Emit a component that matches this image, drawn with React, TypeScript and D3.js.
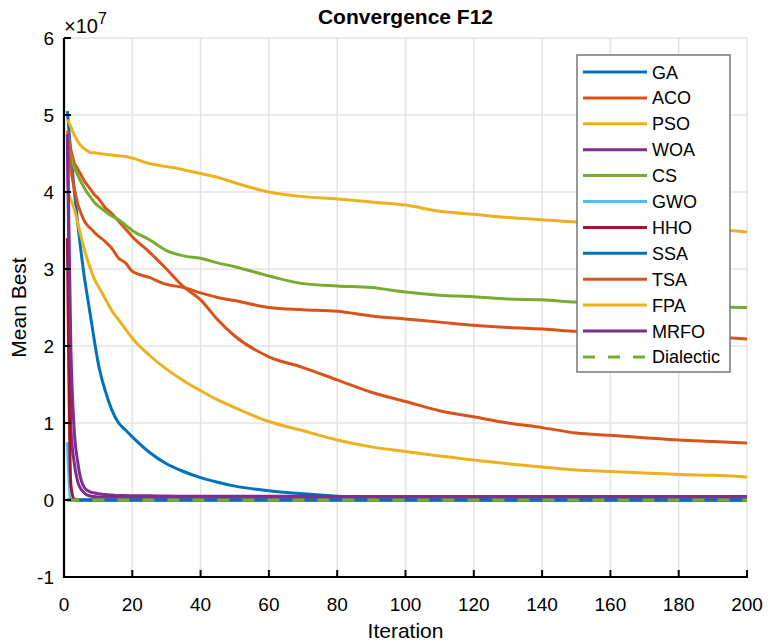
import React from "react";
import * as d3 from "d3";

const ITERS = [1,2,3,4,5,6,7,8,9,10,12,14,16,18,20,25,30,35,40,45,50,60,70,80,90,100,110,120,130,140,150,160,170,180,190,200];

// values in units of 1e7
const GA = [5.05,4.5,4.02,3.6,3.22,2.88,2.6,2.32,2.04,1.78,1.43,1.17,1.0,0.91,0.82,0.62,0.47,0.37,0.29,0.23,0.18,0.12,0.08,0.05,0.03,0.015,0.008,0.004,0,0,0,0,0,0,0,0];
const ACO = [4.8,4.55,4.38,4.3,4.22,4.14,4.08,4.02,3.96,3.92,3.8,3.72,3.62,3.52,3.42,3.22,3.0,2.77,2.6,2.34,2.13,1.86,1.72,1.56,1.40,1.28,1.16,1.08,1.0,0.94,0.87,0.84,0.81,0.78,0.76,0.74];
const PSO = [4.94,4.85,4.74,4.66,4.6,4.56,4.53,4.51,4.51,4.5,4.49,4.48,4.47,4.46,4.44,4.37,4.33,4.29,4.24,4.19,4.12,4.0,3.94,3.91,3.87,3.83,3.75,3.71,3.67,3.64,3.61,3.59,3.57,3.55,3.52,3.48];
const WOA = [4.75,0.95,0.48,0.24,0.14,0.09,0.06,0.05,0.045,0.04,0.038,0.036,0.035,0.035,0.034,0.033,0.032,0.032,0.031,0.031,0.03,0.03,0.03,0.03,0.03,0.03,0.03,0.03,0.03,0.03,0.03,0.03,0.03,0.03,0.03,0.03];
const CS = [4.62,4.45,4.32,4.22,4.13,4.05,3.98,3.92,3.86,3.82,3.75,3.69,3.64,3.57,3.5,3.38,3.24,3.17,3.14,3.08,3.03,2.91,2.81,2.78,2.76,2.7,2.66,2.64,2.61,2.6,2.57,2.56,2.55,2.53,2.51,2.5];
const GWO = [0.75,0,0,0,0,0,0,0,0,0,0,0,0,0,0,0,0,0,0,0,0,0,0,0,0,0,0,0,0,0,0,0,0,0,0,0];
const HHO = [3.4,0.2,0.01,0,0,0,0,0,0,0,0,0,0,0,0,0,0,0,0,0,0,0,0,0,0,0,0,0,0,0,0,0,0,0,0,0];
const SSA = [0,0,0,0,0,0,0,0,0,0,0,0,0,0,0,0,0,0,0,0,0,0,0,0,0,0,0,0,0,0,0,0,0,0,0,0];
const TSA = [4.75,4.3,4.05,3.85,3.72,3.62,3.56,3.52,3.47,3.43,3.36,3.27,3.14,3.08,2.97,2.89,2.8,2.76,2.69,2.63,2.59,2.5,2.47,2.45,2.39,2.35,2.31,2.27,2.24,2.22,2.19,2.17,2.15,2.14,2.12,2.09];
const FPA = [4.02,3.9,3.78,3.6,3.42,3.25,3.1,2.97,2.86,2.78,2.62,2.46,2.34,2.22,2.1,1.88,1.7,1.55,1.42,1.3,1.2,1.02,0.9,0.78,0.69,0.63,0.57,0.52,0.47,0.43,0.39,0.37,0.35,0.33,0.32,0.3];
const MRFO = [4.75,2.0,0.9,0.5,0.26,0.16,0.12,0.1,0.09,0.08,0.07,0.065,0.06,0.058,0.056,0.054,0.052,0.05,0.05,0.05,0.05,0.049,0.048,0.047,0.046,0.045,0.045,0.045,0.045,0.045,0.045,0.045,0.045,0.045,0.045,0.045];
const DIALECTIC = [0,0,0,0,0,0,0,0,0,0,0,0,0,0,0,0,0,0,0,0,0,0,0,0,0,0,0,0,0,0,0,0,0,0,0,0];

const NAMES = ["GA","ACO","PSO","WOA","CS","GWO","HHO","SSA","TSA","FPA","MRFO","Dialectic"];
const SERIES = [GA,ACO,PSO,WOA,CS,GWO,HHO,SSA,TSA,FPA,MRFO,DIALECTIC];
const COLORS = ["#0072BD","#D95319","#EDB120","#7E2F8E","#77AC30","#4DBEEE","#A2142F","#0072BD","#D95319","#EDB120","#7E2F8E","#77AC30"];
const X_TICKS = [0,20,40,60,80,100,120,140,160,180,200];
const Y_TICKS = [-1,0,1,2,3,4,5,6];

const W = 768, H = 644;
const L = 64, R = 747, T = 38, B = 577;
const FONT = "'Liberation Sans', Arial, Helvetica, sans-serif";

export default function App() {
  const x = d3.scaleLinear().domain([0, 200]).range([L, R]);
  const y = d3.scaleLinear().domain([-1, 6]).range([B, T]);
  const line = d3.line<number>().x((_, i) => x(ITERS[i])).y(d => y(d)).curve(d3.curveMonotoneX);
  const legX = 577, legY = 55, legW = 153, legH = 317, rowH = 25.9;
  return (
    <svg width={W} height={H} style={{ position: "absolute", left: 0, top: 0, background: "#fff" }} fontFamily={FONT}>
      <rect x={0} y={0} width={W} height={H} fill="#fff" />
      {X_TICKS.map(t => (
        <line key={"gx" + t} x1={x(t)} x2={x(t)} y1={T} y2={B} stroke="#e3e3e3" strokeWidth={1.5} />
      ))}
      {Y_TICKS.map(t => (
        <line key={"gy" + t} x1={L} x2={R} y1={y(t)} y2={y(t)} stroke="#e3e3e3" strokeWidth={1.5} />
      ))}
      <defs>
        <clipPath id="plot"><rect x={L} y={T} width={R - L} height={B - T} /></clipPath>
      </defs>
      <g clipPath="url(#plot)">
        {SERIES.map((s, i) => (
          <path key={NAMES[i]} d={line(s) || ""} fill="none" stroke={COLORS[i]} strokeWidth={3}
            strokeDasharray={NAMES[i] === "Dialectic" ? "12 13" : undefined} strokeLinejoin="round" />
        ))}
      </g>
      {/* axes */}
      <line x1={L} x2={L} y1={T} y2={B + 1} stroke="#000" strokeWidth={2.2} />
      <line x1={L - 1} x2={R + 1} y1={B} y2={B} stroke="#000" strokeWidth={2.2} />
      {X_TICKS.map(t => (
        <g key={"xt" + t}>
          <line x1={x(t)} x2={x(t)} y1={B} y2={B - 7} stroke="#000" strokeWidth={2} />
          <text x={x(t)} y={611} fontSize={19} textAnchor="middle" fill="#000">{t}</text>
        </g>
      ))}
      {Y_TICKS.map(t => (
        <g key={"yt" + t}>
          <line x1={L} x2={L + 7} y1={y(t)} y2={y(t)} stroke="#000" strokeWidth={2} />
          <text x={54} y={y(t) + 7} fontSize={19} textAnchor="end" fill="#000">{t}</text>
        </g>
      ))}
      <text x={64} y={33} fontSize={20} fill="#000">×10<tspan dy={-9} fontSize={16}>7</tspan></text>
      <text x={(L + R) / 2} y={24} fontSize={21} fontWeight="bold" textAnchor="middle" fill="#000">Convergence F12</text>
      <text x={(L + R) / 2} y={638} fontSize={21} textAnchor="middle" fill="#000">Iteration</text>
      <text transform={`translate(26,${(T + B) / 2}) rotate(-90)`} fontSize={21} textAnchor="middle" fill="#000">Mean Best</text>
      {/* legend */}
      <rect x={legX} y={legY} width={legW} height={legH} fill="#fff" stroke="#777" strokeWidth={1.5} />
      {NAMES.map((n, i) => {
        const yy = legY + 17 + i * rowH;
        return (
          <g key={"lg" + n}>
            <line x1={legX + 6} x2={legX + 70} y1={yy} y2={yy} stroke={COLORS[i]} strokeWidth={3}
              strokeDasharray={n === "Dialectic" ? "12 13" : undefined} />
            <text x={legX + 75} y={yy + 6.5} fontSize={18} fill="#000">{n}</text>
          </g>
        );
      })}
    </svg>
  );
}
